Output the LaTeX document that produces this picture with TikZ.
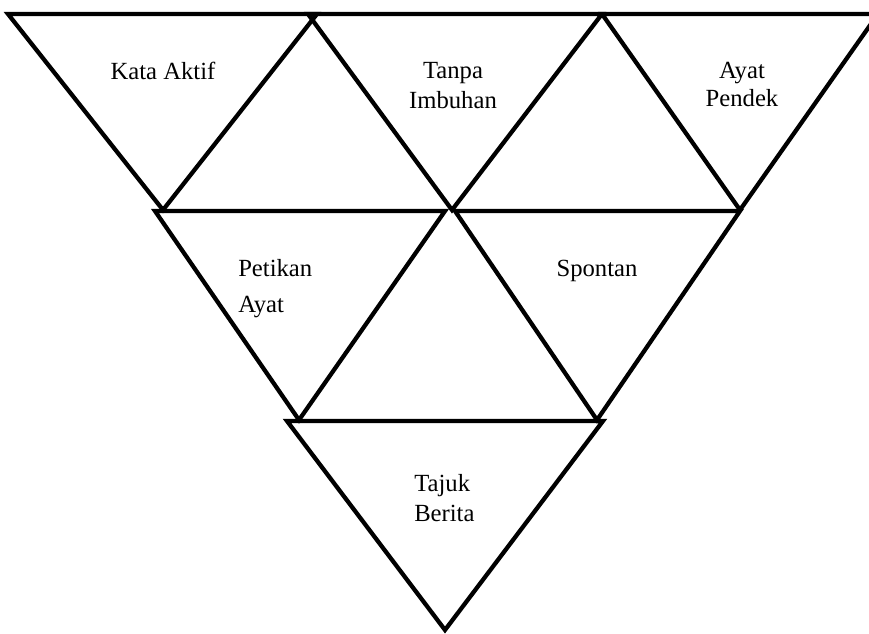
\documentclass[tikz,border=0pt]{standalone}
\usepackage{fontspec}
\setmainfont{Liberation Serif}
\usetikzlibrary{positioning}
\tikzset{
  tri/.style={draw,line width=3.2pt,line join=miter},
  lbl/.style={inner sep=0pt,anchor=north,align=center,font=\fontsize{18.5}{22.5}\selectfont}
}

\begin{document}
\begin{tikzpicture}[x=0.75pt,y=-0.75pt]
  \useasboundingbox (0,0) rectangle (869,634);
  \clip (0,0) rectangle (869,634);

  % top row
  \draw[tri] (8,14) -- (317,14) -- (163,210) -- cycle;
  \draw[tri] (308,14) -- (602,14) -- (452,210) -- cycle;
  \draw[tri] (602,14) -- (878,14) -- (740,210) -- cycle;
  % middle row
  \draw[tri] (155,211) -- (445,211) -- (299,420) -- cycle;
  \draw[tri] (455,211) -- (740,211) -- (597,420) -- cycle;
  % bottom
  \draw[tri] (287,421) -- (603,421) -- (445,630) -- cycle;

  \node[lbl] (aktif) at (163,62) {Kata Aktif};
  \node[lbl] (imbuhan) at (453,62) {Tanpa\\Imbuhan};
  \node[lbl] (pendek) at (742,62) {Ayat\\[-1.5pt]Pendek};
  \node[lbl,anchor=north west,align=left] (petikan) at (238,259) {Petikan\\[4.5pt]Ayat};
  \node[lbl] (spontan) at (597,260) {Spontan};
  \node[lbl,anchor=north west,align=left] (tajuk) at (414,474) {Tajuk\\Berita};
\end{tikzpicture}
\end{document}
